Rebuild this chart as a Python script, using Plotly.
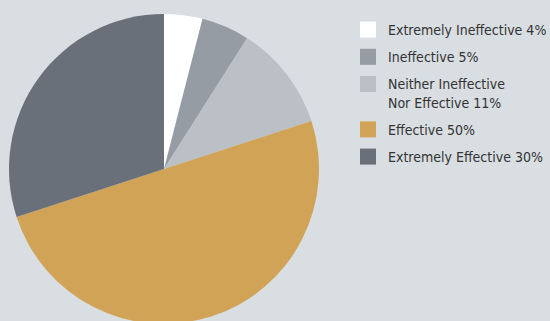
import plotly.graph_objects as go

# Survey responses on effectiveness
labels = [
    "Extremely Ineffective 4%",
    "Ineffective 5%",
    "Neither Ineffective<br>Nor Effective 11%",
    "Effective 50%",
    "Extremely Effective 30%",
]
values = [4, 5, 11, 50, 30]
colors = ["#ffffff", "#959ca3", "#bac0c6", "#d1a356", "#6a7079"]

W, H = 550, 328
cx, cy, r = 164, 169, 155

fig = go.Figure()
fig.add_trace(
    go.Pie(
        labels=labels,
        values=values,
        sort=False,
        direction="clockwise",
        rotation=0,
        marker=dict(colors=colors, line=dict(width=0)),
        textinfo="none",
        hoverinfo="label",
        showlegend=False,
        domain=dict(
            x=[(cx - r) / W, (cx + r) / W],
            y=[1 - (cy + r) / H, 1 - (cy - r) / H],
        ),
    )
)

# Legend entries with larger square swatches, one group each for spacing
for lab, col in zip(labels, colors):
    fig.add_trace(
        go.Scatter(
            x=[None],
            y=[None],
            mode="markers",
            name=lab,
            legendgroup=lab,
            marker=dict(symbol="square", size=16, color=col, line=dict(width=0)),
            hoverinfo="skip",
        )
    )

fig.update_layout(
    width=W,
    height=H,
    margin=dict(l=0, r=0, t=0, b=0, autoexpand=False),
    paper_bgcolor="#d9dee2",
    plot_bgcolor="rgba(0,0,0,0)",
    xaxis=dict(visible=False),
    yaxis=dict(visible=False),
    showlegend=True,
    legend=dict(
        x=348 / W,
        y=1 - 14 / H,
        xanchor="left",
        yanchor="top",
        valign="top",
        font=dict(family="DejaVu Sans Condensed", size=14, color="#333333"),
        bgcolor="rgba(0,0,0,0)",
        tracegroupgap=6,
    ),
)

fig.write_html("out.html")
